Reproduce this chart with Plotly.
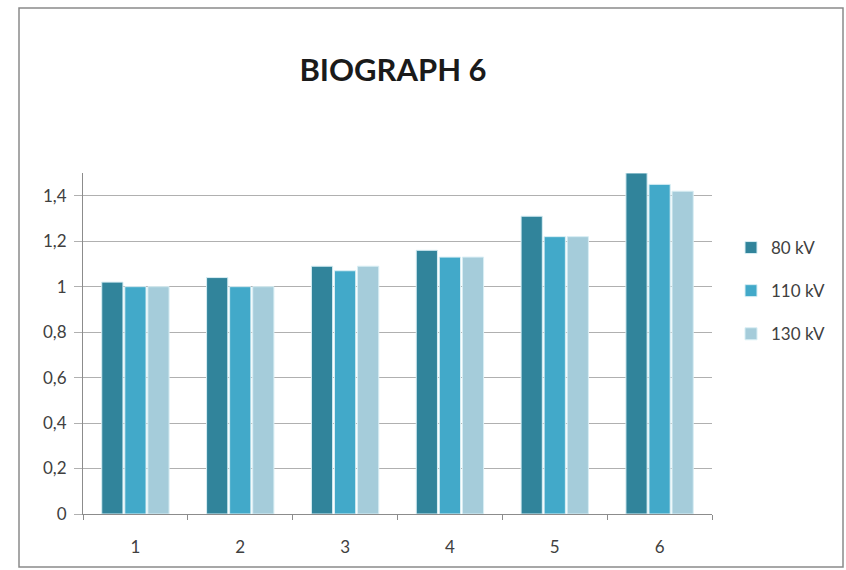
import plotly.graph_objects as go

categories = ["1", "2", "3", "4", "5", "6"]
series_names = ["80 kV", "110 kV", "130 kV"]
v80 = [1.02, 1.04, 1.09, 1.16, 1.31, 1.50]
v110 = [1.00, 1.00, 1.07, 1.13, 1.22, 1.45]
v130 = [1.00, 1.00, 1.09, 1.13, 1.22, 1.42]
y_ticks = [0, 0.2, 0.4, 0.6, 0.8, 1, 1.2, 1.4]
colors = ["#31849B", "#42A9C9", "#A5CCDA"]

W, H = 846, 570
L, R, T, B = 83, 712, 173, 514

fig = go.Figure()
for name, vals, col in zip(series_names, [v80, v110, v130], colors):
    fig.add_trace(go.Bar(
        x=categories, y=vals, name=name, legendgroup=name,
        marker=dict(color=col, line=dict(color="#D8EEF4", width=1)),
    ))

def px(x):
    return (x - L) / (R - L)

def py(y):
    return (B - y) / (B - T)

fig.add_shape(type="rect", xref="paper", yref="paper",
              x0=px(19), x1=px(843), y0=py(567), y1=py(8),
              line=dict(color="#8A8A8A", width=1.5), layer="below")

fig.update_layout(
    width=W, height=H,
    margin=dict(l=L, r=W - R, t=T, b=H - B, pad=0),
    paper_bgcolor="white", plot_bgcolor="white",
    separators=", ",
    font=dict(family="Lato, Open Sans, sans-serif", size=17, color="#404040"),
    title=dict(text="<b>BIOGRAPH 6</b>", xref="container", x=393 / W,
               xanchor="center", y=1 - 70 / H, yanchor="middle",
               font=dict(size=31, color="#1a1a1a")),
    barmode="group", bargap=0.34, bargroupgap=0.08,
    showlegend=True,
    legend=dict(x=px(731), xanchor="left", y=py(230), yanchor="top",
                tracegroupgap=18, font=dict(size=17, color="#404040"),
                bgcolor="rgba(0,0,0,0)", itemwidth=30),
    xaxis=dict(showline=True, linecolor="#8C8C8C", linewidth=1,
               ticks="outside", tickson="boundaries", ticklen=5,
               tickcolor="#8C8C8C", ticklabelstandoff=18, showgrid=False),
    yaxis=dict(range=[0, 1.5], tickvals=y_ticks,
               ticktext=[f"{v:g}".replace(".", ",") for v in y_ticks],
               showline=True, linecolor="#8C8C8C", linewidth=1,
               showgrid=True, gridcolor="#B0B0B0", gridwidth=1,
               ticks="outside", ticklen=8, tickcolor="#B0B0B0",
               ticklabelstandoff=4, zeroline=False),
)

fig.write_html("out.html")
